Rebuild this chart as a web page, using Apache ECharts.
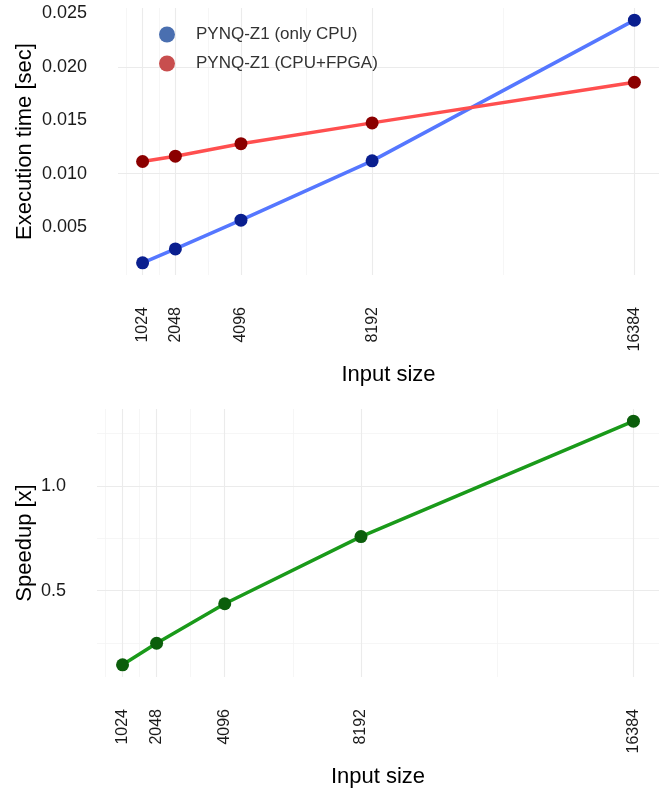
<!DOCTYPE html>
<html>
<head>
<meta charset="utf-8">
<script src="https://cdn.jsdelivr.net/npm/echarts@6/dist/echarts.min.js"></script>
<style>
  html, body { margin: 0; padding: 0; background: #fff; }
  #chart { width: 661px; height: 792px; }
</style>
</head>
<body>
<div id="chart"></div>
<script>
// input sizes (x axis, both panels)
const inputSizes = [1024, 2048, 4096, 8192, 16384];
const xMinorBreaks = [512, 1536, 3072, 6144, 12288];

// execution time [sec]
const cpuOnly = [0.00163, 0.00294, 0.00563, 0.01119, 0.02438];
const cpuFpga = [0.01113, 0.01163, 0.01280, 0.01475, 0.01856];

// speedup [x]
const speedup = [0.145, 0.248, 0.437, 0.758, 1.31];

// tick labels / grid breaks
const timeTicks = [0.005, 0.010, 0.015, 0.020, 0.025];
const timeMinor = [0.0025, 0.0075, 0.0125, 0.0175, 0.0225];
const speedTicks = [0.5, 1.0];
const speedMinor = [0.25, 0.75, 1.25];

const seriesNames = ['PYNQ-Z1 (only CPU)', 'PYNQ-Z1 (CPU+FPGA)'];

const FONT = "'Liberation Sans', Arial, sans-serif";

// ggplot-like 5% expansion of the data range
function expand(values) {
  const lo = Math.min(...values), hi = Math.max(...values);
  const pad = (hi - lo) * 0.05;
  return [lo - pad, hi + pad];
}

const xRange = expand(inputSizes);
const timeRange = expand(cpuOnly.concat(cpuFpga));
const speedRange = expand(speedup);

function pairs(ys) {
  return inputSizes.map((x, i) => [x, ys[i]]);
}

// background grid drawn as mark lines, kept under everything else
function gridLines(xMajor, xMinor, yMajor, yMinor) {
  const major = { color: '#ebebeb', width: 1.1, type: 'solid' };
  const minor = { color: '#f4f4f4', width: 0.8, type: 'solid' };
  const data = [];
  xMinor.forEach(v => data.push({ xAxis: v, lineStyle: minor }));
  yMinor.forEach(v => data.push({ yAxis: v, lineStyle: minor }));
  xMajor.forEach(v => data.push({ xAxis: v, lineStyle: major }));
  yMajor.forEach(v => data.push({ yAxis: v, lineStyle: major }));
  return {
    silent: true,
    z: 0,
    symbol: ['none', 'none'],
    label: { show: false },
    emphasis: { disabled: true },
    animation: false,
    data: data
  };
}

const xAxisBase = {
  type: 'value',
  min: xRange[0],
  max: xRange[1],
  name: 'Input size',
  nameLocation: 'middle',
  nameGap: 89,
  nameMoveOverlap: false,
  nameTextStyle: { fontFamily: FONT, fontSize: 22, color: '#000' },
  axisLine: { show: false },
  axisTick: { show: false, customValues: inputSizes },
  splitLine: { show: false },
  axisLabel: {
    customValues: inputSizes,
    rotate: 90,
    margin: 32,
    fontFamily: FONT,
    fontSize: 16,
    color: '#1a1a1a',
    formatter: v => String(v)
  }
};

const chart = echarts.init(document.getElementById('chart'), null, { renderer: 'canvas' });

chart.setOption({
  animation: false,
  backgroundColor: '#fff',
  legend: {
    orient: 'vertical',
    left: 154,
    top: 21,
    z: 10,
    itemWidth: 16,
    itemHeight: 16,
    itemGap: 12,
    icon: 'circle',
    textStyle: { fontFamily: FONT, fontSize: 17, color: '#333', padding: [0, 0, 0, 16] },
    data: [
      { name: seriesNames[0], itemStyle: { color: '#4a6fb0' } },
      { name: seriesNames[1], itemStyle: { color: '#c84e4e' } }
    ]
  },
  grid: [
    { left: 118, right: 2, top: 8, height: 267 },
    { left: 97, right: 2, top: 409, height: 268 }
  ],
  xAxis: [
    Object.assign({}, xAxisBase, { gridIndex: 0 }),
    Object.assign({}, xAxisBase, { gridIndex: 1 })
  ],
  yAxis: [
    {
      type: 'value',
      gridIndex: 0,
      min: timeRange[0],
      max: timeRange[1],
      name: 'Execution time [sec]',
      nameLocation: 'middle',
      nameGap: 82,
      nameMoveOverlap: false,
      nameTextStyle: { fontFamily: FONT, fontSize: 22, color: '#000' },
      axisLine: { show: false },
      axisTick: { show: false, customValues: timeTicks },
      splitLine: { show: false },
      axisLabel: {
        customValues: timeTicks,
        margin: 31,
        fontFamily: FONT,
        fontSize: 18,
        color: '#1a1a1a',
        formatter: v => v.toFixed(3)
      }
    },
    {
      type: 'value',
      gridIndex: 1,
      min: speedRange[0],
      max: speedRange[1],
      name: 'Speedup [x]',
      nameLocation: 'middle',
      nameGap: 61,
      nameMoveOverlap: false,
      nameTextStyle: { fontFamily: FONT, fontSize: 22, color: '#000' },
      axisLine: { show: false },
      axisTick: { show: false, customValues: speedTicks },
      splitLine: { show: false },
      axisLabel: {
        customValues: speedTicks,
        margin: 31,
        fontFamily: FONT,
        fontSize: 18,
        color: '#1a1a1a',
        formatter: v => v.toFixed(1)
      }
    }
  ],
  series: [
    {
      name: 'grid-top',
      type: 'line',
      xAxisIndex: 0,
      yAxisIndex: 0,
      data: [],
      z: 0,
      markLine: gridLines(inputSizes, xMinorBreaks, timeTicks, timeMinor)
    },
    {
      name: 'grid-bottom',
      type: 'line',
      xAxisIndex: 1,
      yAxisIndex: 1,
      data: [],
      z: 0,
      markLine: gridLines(inputSizes, xMinorBreaks, speedTicks, speedMinor)
    },
    {
      name: seriesNames[0],
      type: 'line',
      xAxisIndex: 0,
      yAxisIndex: 0,
      data: pairs(cpuOnly),
      symbol: 'circle',
      symbolSize: 13,
      z: 3,
      lineStyle: { color: '#5577ff', width: 3.5 },
      itemStyle: { color: '#0a1f8f' }
    },
    {
      name: seriesNames[1],
      type: 'line',
      xAxisIndex: 0,
      yAxisIndex: 0,
      data: pairs(cpuFpga),
      symbol: 'circle',
      symbolSize: 13,
      z: 3,
      lineStyle: { color: '#ff4f4f', width: 3.5 },
      itemStyle: { color: '#8b0000' }
    },
    {
      name: 'Speedup',
      type: 'line',
      xAxisIndex: 1,
      yAxisIndex: 1,
      data: pairs(speedup),
      symbol: 'circle',
      symbolSize: 13,
      z: 3,
      lineStyle: { color: '#1a9a1a', width: 3.5 },
      itemStyle: { color: '#0b5e0b' }
    }
  ]
});
</script>
</body>
</html>
